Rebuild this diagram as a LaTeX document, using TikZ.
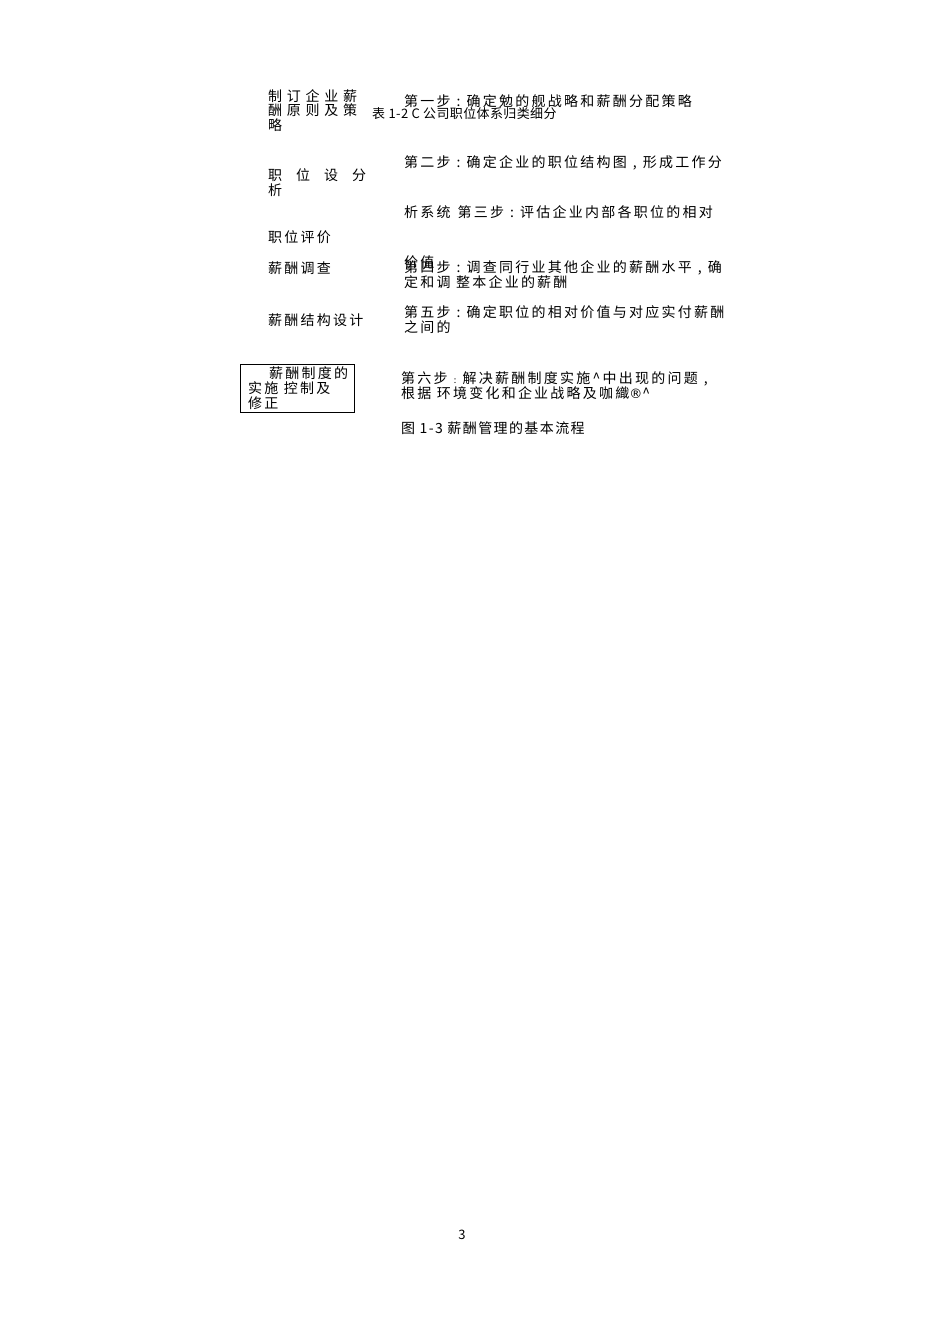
\documentclass[tikz,border=0pt]{standalone}
\usepackage{fontspec}
\setmainfont{Noto Sans CJK SC}
\newfontfamily\cjk[LetterSpace=16]{Noto Sans CJK SC}
\newfontfamily\cjkmid[LetterSpace=10]{Noto Sans CJK SC}
\newfontfamily\cjkplain[LetterSpace=3]{Noto Sans CJK SC}
\newfontfamily\symfont{DejaVu Sans}
\newcommand{\zc}{\makebox[16pt][c]{:}}
\newcommand{\zd}{\makebox[16pt][c]{,}}
\begin{document}
\begin{tikzpicture}[x=1pt,y=-1pt,
  txt/.style={anchor=base west,inner sep=0pt,font=\cjk\fontsize{14}{16}\selectfont},
  small/.style={anchor=base west,inner sep=0pt,font=\cjkplain\fontsize{13}{15}\selectfont},
  frame/.style={draw,line width=0.7pt,inner sep=0pt,anchor=north west}]
\useasboundingbox[fill=white] (0,0) rectangle (950,1344);
% left column
\node[txt] (l1a) at (268,101) {\makebox[89pt][s]{制\hfill 订\hfill 企\hfill 业\hfill 薪}};
\node[txt] (l1b) at (268,115) {\makebox[89pt][s]{酬\hfill 原\hfill 则\hfill 及\hfill 策}};
\node[txt] (l1c) at (268,130) {略};
\node[txt] (l2a) at (268,180) {\makebox[98pt][s]{职\hfill 位\hfill 设\hfill 分}};
\node[txt] (l2b) at (268,195) {析};
\node[txt] (l3) at (268,242) {职位评价};
\node[txt] (l4) at (268,273) {薪酬调查};
\node[txt] (l5) at (268,325) {薪酬结构设计};
\node[frame,minimum width=114pt,minimum height=48pt] (box) at (240,364) {};
\node[txt] (b1) at (269,378) {薪酬制度的};
\node[txt] (b2) at (248,393) {实施 控制及};
\node[txt] (b3) at (248,408) {修正};
% right column
\node[txt] (s1) at (404,106) {第一步\zc 确定勉的舰战略和薪酬分配策略};
\node[small] (cap) at (372,118) {表 1-2 C 公司职位体系归类细分};
\node[txt] (s2) at (404,167) {第二步\zc 确定企业的职位结构图\zd 形成工作分};
\node[txt] (s3) at (404,217) {析系统\hspace{7pt}第三步\zc 评估企业内部各职位的相对};
\node[txt] (s4a) at (404,267) {价值};
\node[txt] (s4b) at (404,272) {第四步\zc 调查同行业其他企业的薪酬水平\zd 确};
\node[txt] (s4c) at (404,287) {定和调 整本企业的薪酬};
\node[txt] (s5a) at (404,317) {第五步\zc 确定职位的相对价值与对应实付薪酬};
\node[txt] (s5b) at (404,332) {之间的};
\node[txt] (s6a) at (401,383) {第六步\makebox[15pt][c]{\fontsize{9}{9}\selectfont :}解决薪酬制度实施\^{}中出现的问题\zd};
\node[txt] (s6b) at (401,398) {根据 环境变化和企业战略及咖織{\symfont\fontsize{13}{14}\selectfont ®}\^{}};
\node[txt,font=\cjkmid\fontsize{14}{16}\selectfont] (fig) at (401,433) {图 1-3 薪酬管理的基本流程};
\node[anchor=base,inner sep=0pt,font=\cjkplain\fontsize{13}{15}\selectfont] (pg) at (462,1239) {3};
\end{tikzpicture}
\end{document}
